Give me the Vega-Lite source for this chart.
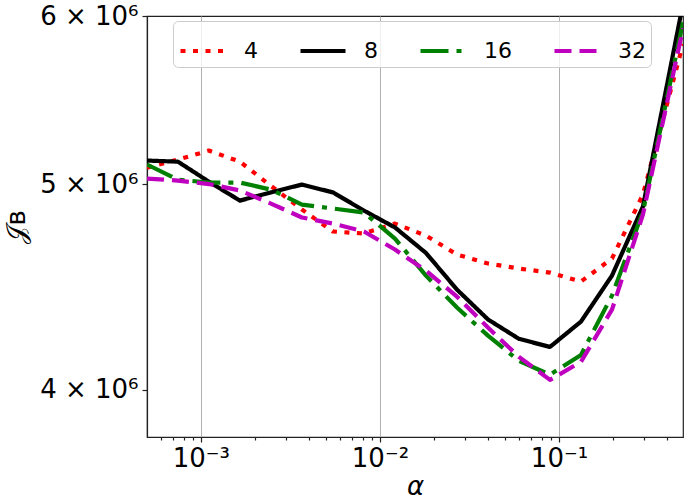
{
  "$schema": "https://vega.github.io/schema/vega-lite/v6.json",
  "width": 536,
  "height": 421,
  "autosize": {"type": "none"},
  "padding": {"left": 147, "top": 16, "right": 2, "bottom": 66},
  "background": "white",
  "config": {
    "font": "DejaVu Sans",
    "view": {"stroke": "#222222", "strokeWidth": 1.2},
    "axis": {
      "labelFont": "DejaVu Sans", "labelFontSize": 26, "labelColor": "black",
      "titleFont": "DejaVu Sans", "titleFontSize": 26, "titleColor": "black", "titleFontWeight": "normal",
      "domainColor": "#222222", "tickColor": "#222222", "domainWidth": 1.2, "tickWidth": 1.2
    }
  },
  "data": {"values": [
    {"a": 0.0005, "N": "4", "J": 5090000}, {"a": 0.0007438, "N": "4", "J": 5134000}, {"a": 0.001108, "N": "4", "J": 5185000},
    {"a": 0.001651, "N": "4", "J": 5123000}, {"a": 0.002461, "N": "4", "J": 4990000}, {"a": 0.003666, "N": "4", "J": 4864000},
    {"a": 0.005463, "N": "4", "J": 4749000}, {"a": 0.008143, "N": "4", "J": 4739000}, {"a": 0.01213, "N": "4", "J": 4790000},
    {"a": 0.01807, "N": "4", "J": 4728000}, {"a": 0.02693, "N": "4", "J": 4632000}, {"a": 0.04012, "N": "4", "J": 4587000},
    {"a": 0.05977, "N": "4", "J": 4562000}, {"a": 0.08907, "N": "4", "J": 4542000}, {"a": 0.1327, "N": "4", "J": 4498000},
    {"a": 0.1977, "N": "4", "J": 4612000}, {"a": 0.2946, "N": "4", "J": 4944000}, {"a": 0.4929, "N": "4", "J": 5820000},

    {"a": 0.0005, "N": "8", "J": 5129000}, {"a": 0.0007438, "N": "8", "J": 5123000}, {"a": 0.001108, "N": "8", "J": 5013000},
    {"a": 0.001651, "N": "8", "J": 4911000}, {"a": 0.002461, "N": "8", "J": 4955000}, {"a": 0.003666, "N": "8", "J": 4997000},
    {"a": 0.005463, "N": "8", "J": 4955000}, {"a": 0.008143, "N": "8", "J": 4858000}, {"a": 0.01213, "N": "8", "J": 4770000},
    {"a": 0.01807, "N": "8", "J": 4640000}, {"a": 0.02693, "N": "8", "J": 4459000}, {"a": 0.04012, "N": "8", "J": 4317000},
    {"a": 0.05977, "N": "8", "J": 4227000}, {"a": 0.08907, "N": "8", "J": 4190000}, {"a": 0.1327, "N": "8", "J": 4307000},
    {"a": 0.1977, "N": "8", "J": 4527000}, {"a": 0.2946, "N": "8", "J": 4880000}, {"a": 0.4929, "N": "8", "J": 6080000},

    {"a": 0.0005, "N": "16", "J": 5107000}, {"a": 0.0007438, "N": "16", "J": 5024000}, {"a": 0.001108, "N": "16", "J": 5008000},
    {"a": 0.001651, "N": "16", "J": 5008000}, {"a": 0.002461, "N": "16", "J": 4970000}, {"a": 0.003666, "N": "16", "J": 4890000},
    {"a": 0.005463, "N": "16", "J": 4869000}, {"a": 0.008143, "N": "16", "J": 4848000}, {"a": 0.01213, "N": "16", "J": 4713000},
    {"a": 0.01807, "N": "16", "J": 4527000}, {"a": 0.02693, "N": "16", "J": 4373000}, {"a": 0.04012, "N": "16", "J": 4242000},
    {"a": 0.05977, "N": "16", "J": 4127000}, {"a": 0.08907, "N": "16", "J": 4066000}, {"a": 0.1327, "N": "16", "J": 4154000},
    {"a": 0.1977, "N": "16", "J": 4430000}, {"a": 0.2946, "N": "16", "J": 4853000}, {"a": 0.4929, "N": "16", "J": 5960000},

    {"a": 0.0005, "N": "32", "J": 5030000}, {"a": 0.0007438, "N": "32", "J": 5019000}, {"a": 0.001108, "N": "32", "J": 5000000},
    {"a": 0.001651, "N": "32", "J": 4965000}, {"a": 0.002461, "N": "32", "J": 4895000}, {"a": 0.003666, "N": "32", "J": 4822000},
    {"a": 0.005463, "N": "32", "J": 4790000}, {"a": 0.008143, "N": "32", "J": 4749000}, {"a": 0.01213, "N": "32", "J": 4657000},
    {"a": 0.01807, "N": "32", "J": 4552000}, {"a": 0.02693, "N": "32", "J": 4425000}, {"a": 0.04012, "N": "32", "J": 4279000},
    {"a": 0.05977, "N": "32", "J": 4145000}, {"a": 0.08907, "N": "32", "J": 4043000}, {"a": 0.1327, "N": "32", "J": 4123000},
    {"a": 0.1977, "N": "32", "J": 4363000}, {"a": 0.2946, "N": "32", "J": 4838000}, {"a": 0.4929, "N": "32", "J": 5920000}
  ]},
  "mark": {"type": "line", "clip": true, "strokeWidth": 4.2, "strokeCap": "butt", "strokeJoin": "round"},
  "encoding": {
    "x": {
      "field": "a", "type": "quantitative",
      "scale": {"type": "log", "domain": [0.0005, 0.4929], "nice": false},
      "axis": {
        "title": "α", "titleFontStyle": "italic", "titlePadding": 2,
        "values": [0.0006, 0.0007, 0.0008, 0.0009, 0.001, 0.002, 0.003, 0.004, 0.005, 0.006, 0.007, 0.008, 0.009,
                   0.01, 0.02, 0.03, 0.04, 0.05, 0.06, 0.07, 0.08, 0.09, 0.1, 0.2, 0.3, 0.4],
        "labelExpr": "datum.value == 0.001 ? '10⁻³' : datum.value == 0.01 ? '10⁻²' : datum.value == 0.1 ? '10⁻¹' : ''",
        "grid": true, "gridColor": "#b0b0b0", "gridWidth": 1,
        "gridOpacity": {"condition": {"test": "datum.value == 0.001 || datum.value == 0.01 || datum.value == 0.1", "value": 1}, "value": 0},
        "tickSize": {"condition": {"test": "datum.value == 0.001 || datum.value == 0.01 || datum.value == 0.1", "value": 5}, "value": 3},
        "labelOverlap": false, "labelFlush": false, "labelBound": false, "labelPadding": 3
      }
    },
    "y": {
      "field": "J", "type": "quantitative",
      "scale": {"type": "log", "domain": [3800000, 6000000], "nice": false, "zero": false},
      "axis": {
        "title": "𝒥ʙ", "titlePadding": 10,
        "values": [4000000, 5000000, 6000000],
        "labelExpr": "format(datum.value / 1000000, 'd') + ' × 10⁶'",
        "grid": false, "tickSize": 5, "labelPadding": 4,
        "labelOverlap": false, "labelFlush": false, "labelBound": false
      }
    },
    "color": {
      "field": "N", "type": "nominal",
      "scale": {"domain": ["4", "8", "16", "32"], "range": ["#ff0000", "#000000", "#008000", "#bf00bf"]},
      "legend": {
        "title": null, "orient": "none", "legendX": 26, "legendY": 5, "direction": "horizontal", "columns": 4,
        "symbolType": "stroke", "symbolSize": 2025, "symbolStrokeWidth": 4.2,
        "labelFont": "DejaVu Sans", "labelFontSize": 22, "labelColor": "black", "labelOffset": 16,
        "columnPadding": 34, "padding": 5, "strokeColor": "#cccccc", "fillColor": "rgba(255,255,255,0.8)", "cornerRadius": 5
      }
    },
    "strokeDash": {
      "field": "N", "type": "nominal",
      "scale": {"domain": ["4", "8", "16", "32"], "range": [[5, 7.5], [1, 0], [28, 8, 5, 8], [17, 8]]},
      "legend": {
        "title": null, "orient": "none", "legendX": 26, "legendY": 5, "direction": "horizontal", "columns": 4,
        "symbolType": "stroke", "symbolSize": 2025, "symbolStrokeWidth": 4.2,
        "labelFont": "DejaVu Sans", "labelFontSize": 22, "labelColor": "black", "labelOffset": 16,
        "columnPadding": 34, "padding": 5, "strokeColor": "#cccccc", "fillColor": "rgba(255,255,255,0.8)", "cornerRadius": 5
      }
    }
  }
}
